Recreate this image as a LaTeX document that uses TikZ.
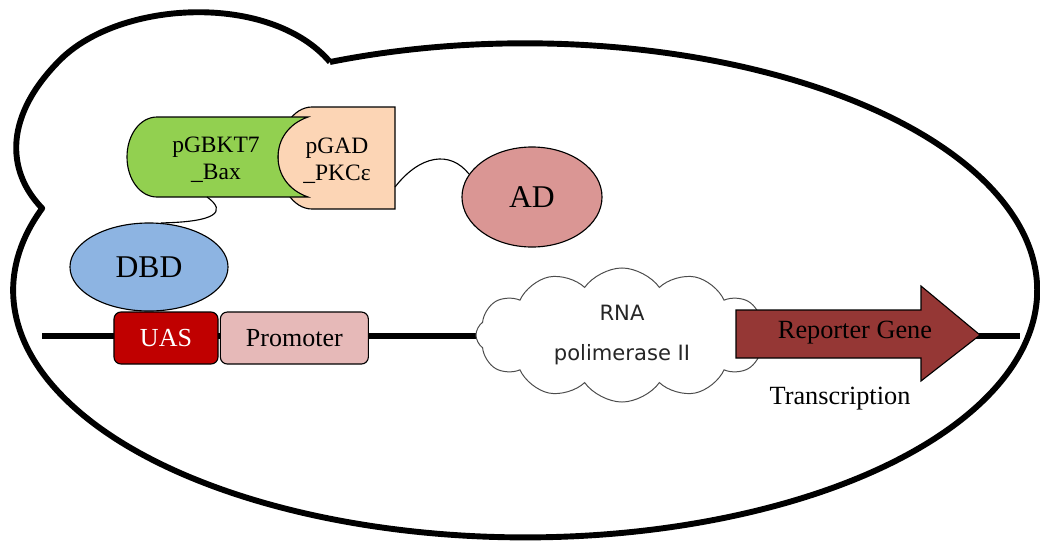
\documentclass[tikz,border=0pt]{standalone}
\usepackage{fontspec}
\setmainfont{Liberation Serif}
\newfontfamily\rnafont{DejaVu Sans}
\usetikzlibrary{shapes.geometric,shapes.symbols,positioning}

\definecolor{baxgreen}{HTML}{92D050}
\definecolor{pkcpeach}{HTML}{FCD5B5}
\definecolor{dbdblue}{HTML}{8DB4E2}
\definecolor{adrose}{HTML}{DA9694}
\definecolor{uasred}{HTML}{C00000}
\definecolor{promopink}{HTML}{E6B9B8}
\definecolor{generust}{HTML}{953735}

\tikzset{
  cellwall/.style={line width=4.2pt, line join=round},
  dnastrand/.style={line width=4.5pt},
  genebox/.style={draw, line width=0.8pt, rounded corners=5pt, inner sep=0pt,
    minimum height=1.3cm, font=\fontsize{18.5}{22}\selectfont},
  protdomain/.style={ellipse, draw, line width=0.8pt, inner sep=0pt,
    font=\fontsize{22.5}{26}\selectfont},
  plasmid/.style={align=center, font=\fontsize{16.7}{19.5}\selectfont},
  linker/.style={line width=0.8pt},
  genearrow/.style={draw, line width=0.8pt, fill=generust, line join=miter}
}

\begin{document}
\begin{tikzpicture}[x=0.025cm, y=-0.025cm]
\useasboundingbox (0,0) rectangle (1040,541);

% yeast cell with its bud
\draw[cellwall] (330,62) arc[start angle=-112.4, end angle=199.4, x radius=512, y radius=247]
  .. controls (5,170) and (5,115) .. (60,60)
  .. controls (120,0) and (270,-8) .. (330,62);

% DNA
\coordinate (dnaL) at (42,336);
\coordinate (dnaR) at (1020,336);
\draw[dnastrand] (dnaL) -- (dnaR);

\node[genebox, fill=uasred, text=white, minimum width=2.6cm] (uas) at (166,338) {UAS};
\node[genebox, fill=promopink, minimum width=3.7cm, right=0.03cm of uas] (promoter) {Promoter};

\node[cloud, cloud puffs=12, cloud puff arc=110, aspect=2.1, draw=black!70, line width=0.7pt,
  fill=white, minimum width=7.3cm, minimum height=3.35cm, align=center, text=black!85,
  font=\rnafont\fontsize{15}{28}\selectfont] (rna) at (622,335) {RNA\\polimerase II};

\draw[genearrow] (736,310) -- (921,310) -- (921,286) -- (980,335) -- (921,381)
  -- (921,358) -- (736,358) -- cycle;
\coordinate (genetip) at (980,335);
\node[font=\fontsize{18.7}{22}\selectfont] (gene) at (855,333) {Reporter Gene};
\node[font=\fontsize{18.7}{22}\selectfont] (transcription) at (840,399) {Transcription};

% binding domain and activation domain
\node[protdomain, fill=dbdblue, minimum width=3.95cm, minimum height=2.2cm] (dbd) at (149,267) {DBD};
\node[protdomain, fill=adrose, minimum width=3.5cm, minimum height=2.5cm] (ad) at (532,197) {AD};

% fusion proteins
\draw[line width=0.8pt, fill=pkcpeach] (395,107) -- (312,107)
  .. controls (293,107) and (278,130) .. (278,158)
  .. controls (278,186) and (293,209) .. (312,209) -- (395,209) -- cycle;
\draw[line width=0.8pt, fill=baxgreen] (157,117) -- (308,117)
  .. controls (288,124) and (278,140) .. (278,157)
  .. controls (278,174) and (288,190) .. (308,197) -- (157,197)
  .. controls (140,197) and (127,179) .. (127,157)
  .. controls (127,135) and (140,117) .. (157,117) -- cycle;
\node[plasmid] (bax) at (216,160) {pGBKT7\\\_Bax};
\node[plasmid] (pkc) at (337,161) {pGAD\\\_PKCε};

\coordinate (baxfoot) at (207,197);
\coordinate (pkcside) at (395,187);
\draw[linker] (baxfoot) .. controls (228,212) and (215,222) .. (dbd.75);
\draw[linker] (pkcside) .. controls (420,155) and (450,150) .. (ad.160);
\end{tikzpicture}
\end{document}
